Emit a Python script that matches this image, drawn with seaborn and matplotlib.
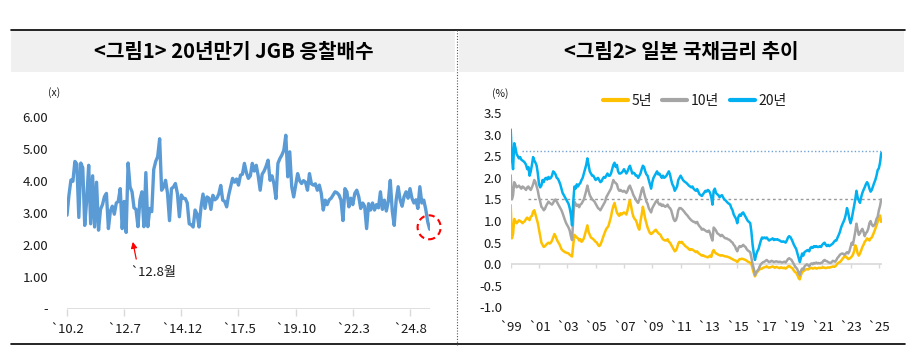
import numpy as np
import pandas as pd
import matplotlib
matplotlib.use("Agg")
import matplotlib.pyplot as plt
from matplotlib.patches import Rectangle, Ellipse
from matplotlib.lines import Line2D
import seaborn as sns

# ---------------- data ----------------
# Figure 1: 20-year JGB auction bid-to-cover ratio, monthly from Feb 2010
bid_to_cover = [
    2.92, 3.55, 4.02, 3.98, 4.60, 4.52, 2.85, 4.55, 4.40, 2.60,
    3.40, 4.48, 2.65, 4.15, 2.55, 3.95, 2.45, 3.10, 3.25, 3.50,
    3.60, 2.50, 3.05, 3.20, 2.95, 3.30, 3.35, 3.75, 2.50, 3.35,
    2.38, 4.55, 3.80, 3.65, 3.15, 3.10, 2.56, 3.39, 3.65, 2.56,
    4.25, 2.56, 3.13, 3.03, 4.35, 4.60, 4.75, 5.31, 3.70, 3.80,
    4.01, 3.60, 2.75, 3.75, 3.80, 3.91, 3.60, 2.87, 3.55, 3.45,
    3.44, 3.30, 2.65, 2.62, 2.55, 3.08, 2.95, 2.55, 3.18, 3.58,
    3.13, 3.49, 3.45, 3.10, 3.54, 3.40, 3.45, 3.58, 3.85, 3.39,
    3.35, 3.18, 3.54, 3.80, 4.07, 3.95, 4.05, 3.86, 4.17, 4.20,
    4.54, 4.25, 4.07, 4.15, 4.54, 4.30, 4.48, 4.15, 3.70, 4.20,
    4.30, 4.45, 4.64, 4.01, 4.15, 3.90, 3.44, 4.54, 4.69, 4.80,
    4.95, 5.42, 4.12, 4.90, 3.81, 3.49, 3.85, 4.22, 4.00, 3.91,
    4.00, 3.95, 3.70, 4.22, 3.90, 3.86, 3.90, 3.70, 3.86, 3.60,
    3.08, 3.39, 3.25, 3.40, 3.45, 3.55, 3.65, 3.62, 3.55, 3.39,
    2.75, 3.75, 3.65, 3.18, 3.45, 3.25, 3.60, 3.70, 3.50, 3.13,
    3.30, 3.20, 2.50, 3.28, 3.08, 3.30, 3.08, 3.25, 3.15, 3.65,
    3.10, 3.39, 3.05, 3.35, 4.01, 3.05, 2.60, 3.40, 3.81, 3.40,
    3.20, 3.50, 3.65, 3.45, 3.75, 3.45, 3.30, 3.40, 3.13, 3.81,
    3.30, 3.39, 3.10, 2.71, 2.48,
]
left_tick_pos = [0, 29, 58, 87, 116, 145, 174]
left_tick_labels = ["`10.2", "`12.7", "`14.12", "`17.5", "`19.10", "`22.3", "`24.8"]
left_yticks = [0, 1, 2, 3, 4, 5, 6]
left_ytick_labels = ["-", "1.00", "2.00", "3.00", "4.00", "5.00", "6.00"]
low_month = 30          # Aug 2012 low
low_label = "`12.8월"

# Figure 2: JGB yields (%), monthly Jan 1999 - Mar 2025
yield_5y = [
    1.37, 0.60, 0.70, 1.05, 1.00, 0.95, 0.98, 1.02, 1.00, 0.98, 0.95, 0.98,
    1.00, 1.05, 1.08, 1.05, 1.02, 1.10, 1.12, 1.22, 1.25, 1.15, 1.05, 0.95,
    0.80, 0.65, 0.50, 0.45, 0.40, 0.42, 0.45, 0.48, 0.50, 0.48, 0.50, 0.55,
    0.62, 0.70, 0.65, 0.58, 0.52, 0.48, 0.42, 0.35, 0.32, 0.30, 0.28, 0.27,
    0.26, 0.25, 0.22, 0.20, 0.18, 0.45, 0.68, 0.65, 0.62, 0.60, 0.55, 0.58,
    0.52, 0.55, 0.60, 0.70, 0.80, 0.90, 0.75, 0.68, 0.62, 0.60, 0.58, 0.55,
    0.52, 0.50, 0.45, 0.42, 0.45, 0.52, 0.60, 0.68, 0.75, 0.82, 0.85, 0.90,
    1.00, 1.10, 1.25, 1.35, 1.42, 1.30, 1.20, 1.15, 1.12, 1.18, 1.15, 1.18,
    1.20, 1.18, 1.15, 1.25, 1.38, 1.48, 1.35, 1.20, 1.10, 1.05, 1.02, 0.95,
    0.85, 0.80, 1.00, 1.15, 1.33, 1.20, 1.05, 0.95, 0.85, 0.78, 0.72, 0.70,
    0.72, 0.75, 0.78, 0.80, 0.76, 0.72, 0.70, 0.68, 0.62, 0.58, 0.56, 0.55,
    0.55, 0.58, 0.52, 0.50, 0.45, 0.40, 0.35, 0.30, 0.32, 0.38, 0.48, 0.52,
    0.50, 0.52, 0.48, 0.45, 0.42, 0.40, 0.38, 0.35, 0.33, 0.35, 0.34, 0.32,
    0.30, 0.28, 0.30, 0.26, 0.24, 0.22, 0.20, 0.21, 0.19, 0.18, 0.17, 0.16,
    0.18, 0.20, 0.17, 0.28, 0.33, 0.28, 0.25, 0.24, 0.22, 0.21, 0.20, 0.21,
    0.20, 0.19, 0.18, 0.18, 0.17, 0.16, 0.15, 0.13, 0.12, 0.10, 0.09, 0.08,
    0.05, 0.09, 0.12, 0.12, 0.13, 0.12, 0.11, 0.10, 0.08, 0.06, 0.05, 0.03,
    0.00, -0.10, -0.20, -0.28, -0.22, -0.18, -0.14, -0.12, -0.10, -0.10, -0.08, -0.07,
    -0.06, -0.05, -0.07, -0.08, -0.07, -0.06, -0.05, -0.07, -0.08, -0.06, -0.07, -0.08,
    -0.09, -0.07, -0.08, -0.09, -0.08, -0.10, -0.08, -0.05, -0.04, -0.06, -0.08, -0.10,
    -0.15, -0.18, -0.20, -0.25, -0.32, -0.35, -0.25, -0.18, -0.16, -0.14, -0.12, -0.11,
    -0.12, -0.10, -0.09, -0.08, -0.10, -0.09, -0.08, -0.10, -0.09, -0.08, -0.09, -0.08,
    -0.08, -0.07, -0.08, -0.09, -0.08, -0.07, -0.08, -0.07, -0.06, -0.05, -0.06, -0.05,
    -0.02, 0.02, 0.04, 0.05, 0.08, 0.12, 0.15, 0.20, 0.18, 0.15, 0.12, 0.13,
    0.15, 0.18, 0.22, 0.30, 0.44, 0.38, 0.25, 0.20, 0.25, 0.32, 0.40, 0.45,
    0.52, 0.55, 0.60, 0.58, 0.55, 0.60, 0.62, 0.68, 0.75, 0.82, 0.90, 0.98,
    1.05, 1.13, 0.98,
]
yield_10y = [
    2.06, 1.50, 1.60, 1.90, 1.85, 1.78, 1.80, 1.82, 1.78, 1.75, 1.80, 1.78,
    1.75, 1.72, 1.78, 1.80, 1.75, 1.72, 1.78, 1.85, 1.95, 1.90, 1.80, 1.70,
    1.55, 1.45, 1.33, 1.30, 1.25, 1.28, 1.35, 1.40, 1.45, 1.42, 1.40, 1.38,
    1.42, 1.48, 1.50, 1.45, 1.40, 1.35, 1.30, 1.25, 1.18, 1.10, 1.02, 0.95,
    0.90, 0.85, 0.78, 0.65, 0.56, 1.05, 1.45, 1.40, 1.35, 1.38, 1.32, 1.38,
    1.40, 1.45, 1.50, 1.60, 1.70, 1.82, 1.70, 1.60, 1.55, 1.50, 1.48, 1.45,
    1.40, 1.35, 1.30, 1.28, 1.25, 1.30, 1.35, 1.40, 1.45, 1.55, 1.60, 1.65,
    1.70, 1.75, 1.85, 1.95, 1.90, 1.88, 1.85, 1.75, 1.70, 1.72, 1.70, 1.68,
    1.70, 1.68, 1.65, 1.70, 1.78, 1.82, 1.75, 1.68, 1.60, 1.55, 1.50, 1.45,
    1.42, 1.50, 1.60, 1.72, 1.78, 1.65, 1.55, 1.45, 1.40, 1.30, 1.25, 1.20,
    1.30, 1.35, 1.40, 1.45, 1.48, 1.42, 1.38, 1.40, 1.35, 1.38, 1.35, 1.33,
    1.35, 1.38, 1.32, 1.30, 1.25, 1.15, 1.05, 1.00, 1.02, 1.10, 1.25, 1.30,
    1.30, 1.28, 1.25, 1.22, 1.18, 1.15, 1.12, 1.08, 1.05, 1.02, 1.00, 0.98,
    0.98, 0.95, 0.98, 0.92, 0.88, 0.85, 0.80, 0.82, 0.80, 0.78, 0.76, 0.75,
    0.78, 0.72, 0.62, 0.55, 0.85, 0.82, 0.78, 0.72, 0.70, 0.68, 0.65, 0.68,
    0.65, 0.62, 0.60, 0.60, 0.58, 0.57, 0.55, 0.52, 0.50, 0.45, 0.42, 0.35,
    0.30, 0.38, 0.42, 0.40, 0.42, 0.45, 0.42, 0.40, 0.35, 0.32, 0.30, 0.28,
    0.15, 0.00, -0.10, -0.25, -0.18, -0.15, -0.12, -0.05, 0.00, 0.03, 0.05, 0.06,
    0.08, 0.10, 0.07, 0.05, 0.06, 0.08, 0.07, 0.05, 0.06, 0.07, 0.06, 0.05,
    0.06, 0.05, 0.04, 0.05, 0.06, 0.04, 0.08, 0.12, 0.14, 0.12, 0.10, 0.05,
    0.00, -0.05, -0.08, -0.12, -0.20, -0.25, -0.15, -0.10, -0.12, -0.05, -0.02, 0.00,
    -0.02, -0.05, 0.00, 0.02, 0.00, 0.03, 0.02, 0.04, 0.02, 0.03, 0.02, 0.03,
    0.04, 0.08, 0.10, 0.08, 0.07, 0.05, 0.04, 0.03, 0.05, 0.08, 0.07, 0.06,
    0.10, 0.15, 0.18, 0.22, 0.24, 0.25, 0.24, 0.22, 0.25, 0.28, 0.25, 0.30,
    0.40, 0.50, 0.45, 0.60, 0.75, 0.94, 0.80, 0.68, 0.72, 0.78, 0.82, 0.75,
    0.65, 0.72, 0.75, 0.82, 0.95, 1.00, 0.92, 0.88, 0.90, 0.95, 1.05, 1.10,
    1.25, 1.35, 1.50,
]
yield_20y = [
    3.12, 2.45, 2.20, 2.80, 2.70, 2.55, 2.50, 2.45, 2.48, 2.42, 2.40, 2.38,
    2.35, 2.30, 2.20, 2.25, 2.05, 2.15, 2.30, 2.48, 2.40, 2.35, 2.28, 2.10,
    1.85, 1.78, 1.82, 1.95, 1.90, 1.98, 2.00, 1.96, 2.02, 1.98, 2.00, 2.05,
    2.15, 2.12, 2.08, 2.00, 1.98, 1.92, 1.85, 1.75, 1.65, 1.60, 1.55, 1.50,
    1.45, 1.40, 1.30, 1.15, 0.90, 1.45, 1.80, 1.75, 1.85, 1.80, 1.85, 1.88,
    1.95, 2.00, 2.10, 2.20, 2.30, 2.45, 2.30, 2.15, 2.10, 2.05, 2.05, 2.00,
    1.95, 1.98, 2.00, 1.95, 1.90, 1.92, 1.98, 2.02, 2.00, 2.05, 2.10, 2.05,
    2.05, 2.10, 2.20, 2.30, 2.35, 2.25, 2.30, 2.15, 2.10, 2.10, 2.12, 2.15,
    2.20, 2.15, 2.10, 2.15, 2.22, 2.28, 2.20, 2.10, 2.12, 2.10, 2.05, 2.05,
    2.00, 2.05, 2.10, 2.20, 2.28, 2.25, 2.15, 2.08, 2.05, 1.95, 1.85, 1.75,
    1.90, 2.00, 2.05, 2.10, 2.15, 2.08, 2.10, 2.05, 2.00, 2.05, 2.00, 2.02,
    2.05, 2.10, 2.15, 2.08, 1.95, 1.85, 1.80, 1.70, 1.75, 1.80, 1.95, 2.00,
    2.05, 2.00, 1.95, 1.92, 1.90, 1.88, 1.85, 1.82, 1.80, 1.78, 1.80, 1.75,
    1.72, 1.70, 1.74, 1.68, 1.62, 1.60, 1.58, 1.62, 1.66, 1.70, 1.68, 1.72,
    1.70, 1.65, 1.55, 1.38, 1.70, 1.75, 1.65, 1.62, 1.60, 1.55, 1.58, 1.60,
    1.55, 1.50, 1.48, 1.45, 1.42, 1.40, 1.38, 1.30, 1.25, 1.15, 1.10, 1.05,
    0.95, 1.10, 1.15, 1.12, 1.18, 1.20, 1.15, 1.10, 1.05, 1.00, 0.98, 0.95,
    0.75, 0.45, 0.25, 0.10, 0.22, 0.30, 0.35, 0.45, 0.55, 0.62, 0.60, 0.62,
    0.60, 0.62, 0.58, 0.55, 0.57, 0.58, 0.60, 0.56, 0.58, 0.57, 0.58, 0.56,
    0.55, 0.53, 0.52, 0.53, 0.52, 0.50, 0.55, 0.62, 0.65, 0.63, 0.58, 0.52,
    0.45, 0.40, 0.35, 0.25, 0.15, 0.05, 0.15, 0.25, 0.20, 0.28, 0.30, 0.32,
    0.33, 0.30, 0.38, 0.40, 0.38, 0.42, 0.40, 0.42, 0.40, 0.40, 0.42, 0.40,
    0.45, 0.48, 0.50, 0.45, 0.42, 0.45, 0.42, 0.44, 0.46, 0.48, 0.52, 0.55,
    0.55, 0.62, 0.68, 0.75, 0.85, 0.92, 0.98, 1.05, 1.15, 1.30, 1.20, 1.05,
    0.95, 1.05, 1.20, 1.35, 1.50, 1.70, 1.55, 1.48, 1.42, 1.55, 1.65, 1.72,
    1.78, 1.85, 1.90, 1.85, 1.75, 1.68, 1.72, 1.80, 1.88, 1.95, 2.05, 2.18,
    2.22, 2.35, 2.57,
]
series_names = ["5년", "10년", "20년"]
series_colors = ["#FFC000", "#A5A5A5", "#00B0F0"]
right_tick_years = list(range(1999, 2026, 2))
right_tick_labels = ["`99", "`01", "`03", "`05", "`07", "`09", "`11",
                     "`13", "`15", "`17", "`19", "`21", "`23", "`25"]
right_yticks = [-1.0, -0.5, 0.0, 0.5, 1.0, 1.5, 2.0, 2.5, 3.0, 3.5]
ref_level_20y = 2.62
ref_level_10y = 1.52

title_left = "<그림1> 20년만기 JGB 응찰배수"
title_right = "<그림2> 일본 국채금리 추이"

# ---------------- style ----------------
sns.set_theme(style="white")
plt.rcParams["font.family"] = ["Noto Sans CJK KR", "DejaVu Sans"]
TXT = "#1a1a1a"
AXIS_GRAY = "#D9D9D9"

W, H = 919, 347
fig = plt.figure(figsize=(W / 100, H / 100), dpi=100)
fig.patch.set_facecolor("white")


def fx(x):
    return x / W


def fy(y):
    return 1 - y / H


# header bands, rules, separator
fig.add_artist(Rectangle((fx(11), fy(72)), fx(444), 42 / H, transform=fig.transFigure,
                         facecolor="#F0F0F0", edgecolor="none", zorder=0))
fig.add_artist(Rectangle((fx(459), fy(72)), fx(445), 42 / H, transform=fig.transFigure,
                         facecolor="#F0F0F0", edgecolor="none", zorder=0))
fig.add_artist(Line2D([fx(11), fx(905)], [fy(29.5), fy(29.5)], color="black", lw=1.2))
fig.add_artist(Line2D([fx(11), fx(905)], [fy(344.3), fy(344.3)], color="black", lw=1.2))
fig.add_artist(Line2D([fx(456.5), fx(456.5)], [fy(30), fy(347)], color="#555555",
                      lw=0.8, linestyle=(0, (1, 1.5))))

fig.text(fx(234), fy(52), title_left, ha="center", va="center", fontsize=14.5,
         fontweight="bold", color="black")
fig.text(fx(681), fy(52), title_right, ha="center", va="center", fontsize=14.5,
         fontweight="bold", color="black")

# ---------------- left chart ----------------
n_left = len(bid_to_cover)
ax1 = fig.add_axes([fx(67), (H - 308.5) / H, fx(362.7), 191.8 / H])
left_df = pd.DataFrame({"month": np.arange(n_left), "ratio": bid_to_cover})
sns.lineplot(data=left_df, x="month", y="ratio", ax=ax1, color="#5B9BD5", linewidth=2.4)
ax1.set_xlim(0, n_left - 1)
ax1.set_ylim(0, 6)
for s in ax1.spines.values():
    s.set_visible(False)
ax1.axhline(0, color=AXIS_GRAY, lw=1.2, zorder=1)
ax1.set_xticks(left_tick_pos, left_tick_labels)
ax1.set_yticks(left_yticks, left_ytick_labels)
ax1.tick_params(axis="x", length=5, width=1, color=AXIS_GRAY, pad=5.5,
                labelsize=9.5, labelcolor=TXT, bottom=True)
ax1.tick_params(axis="y", length=0, pad=13.5, labelsize=9.5, labelcolor=TXT)
ax1.set_xlabel("")
ax1.set_ylabel("")
ax1.grid(False)
fig.text(fx(54), fy(93), "(x)", ha="center", va="center", fontsize=7.5, color=TXT)

# annotation for the Aug 2012 low
low_val = bid_to_cover[low_month]
ax1.annotate("", xy=(low_month + 3.1, low_val - 0.21), xytext=(low_month + 5.4, low_val - 0.92),
             arrowprops=dict(arrowstyle="-|>", color="red", lw=0.9, mutation_scale=9))
ax1.text(low_month + 2.0, low_val - 1.25, low_label, ha="left", va="center",
         fontsize=9.5, color=TXT)

# dashed circle around the latest value
last_idx = n_left - 1
ax1.add_patch(Ellipse((last_idx - 0.3, bid_to_cover[-1] + 0.06), width=11.7, height=0.75,
                      fill=False, edgecolor="red", lw=1.5, linestyle=(0, (3, 2)),
                      clip_on=False))

# ---------------- right chart ----------------
n_right = len(yield_20y)
t = 1999 + np.arange(n_right) / 12
right_df = pd.concat([
    pd.DataFrame({"t": t, "yield": yield_5y, "tenor": series_names[0]}),
    pd.DataFrame({"t": t, "yield": yield_10y, "tenor": series_names[1]}),
    pd.DataFrame({"t": t, "yield": yield_20y, "tenor": series_names[2]}),
])
ax2 = fig.add_axes([fx(510.7), (H - 307.5) / H, fx(371.7), 194.5 / H])
sns.lineplot(data=right_df, x="t", y="yield", hue="tenor", hue_order=series_names,
             palette=series_colors, ax=ax2, linewidth=1.8)
ax2.set_xlim(1999, 2025.25)
ax2.set_ylim(-1, 3.5)
for s in ax2.spines.values():
    s.set_visible(False)
ax2.axhline(0, color=AXIS_GRAY, lw=1.2, zorder=1)
ax2.vlines(right_tick_years, -0.09, 0, color=AXIS_GRAY, lw=1, zorder=1)
ax2.hlines(ref_level_20y, 1999.8, 2025.25, color="#6FA3D8", lw=1.0,
           linestyle=(0, (1, 1.6)), zorder=1)
ax2.hlines(ref_level_10y, 2000.2, 2025.25, color="#9A9A9A", lw=1.0,
           linestyle=(0, (2, 2)), zorder=1)
ax2.set_xticks(right_tick_years, right_tick_labels)
ax2.set_yticks(right_yticks, [f"{v:.1f}" for v in right_yticks])
ax2.tick_params(axis="x", length=0, pad=9.5, labelsize=9.5, labelcolor=TXT)
ax2.tick_params(axis="y", length=0, pad=6.3, labelsize=9.5, labelcolor=TXT)
ax2.set_xlabel("")
ax2.set_ylabel("")
ax2.grid(False)
fig.text(fx(500), fy(94), "(%)", ha="center", va="center", fontsize=7.5, color=TXT)

handles, labels = ax2.get_legend_handles_labels()
for h in handles:
    h.set_linewidth(3)
ax2.legend(handles, labels, loc="center left", bbox_to_anchor=(fx(603), fy(100.7)),
           bbox_transform=fig.transFigure, ncol=3, frameon=False, fontsize=10,
           handlelength=1.8, handletextpad=0.25, columnspacing=0.75,
           borderpad=0, borderaxespad=0, labelcolor=TXT)

fig.savefig("out.png", dpi=100)
